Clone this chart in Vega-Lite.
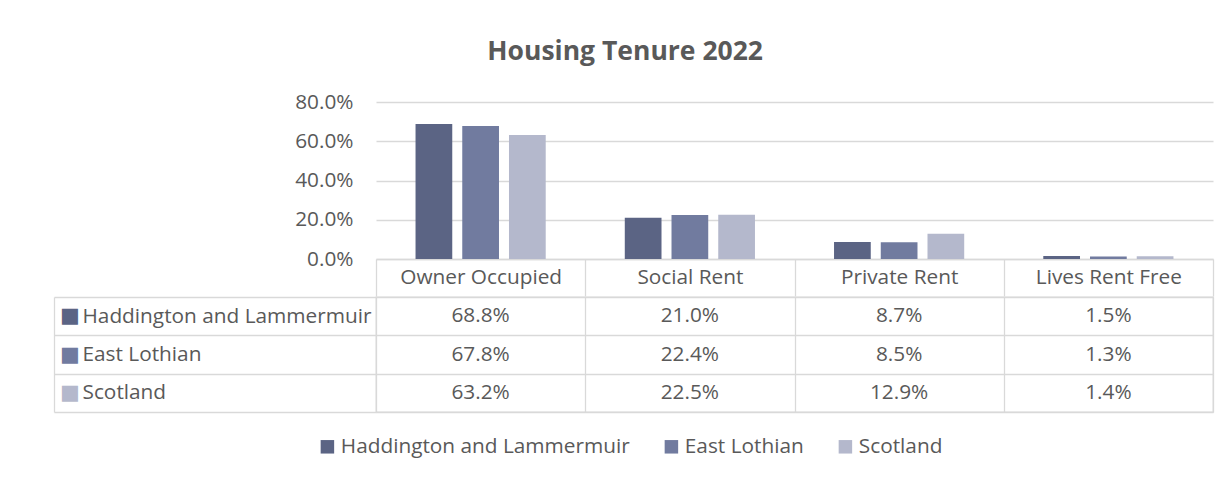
{
  "$schema": "https://vega.github.io/schema/vega-lite/v6.json",
  "padding": {"left": 52, "top": 38, "right": 5, "bottom": 5},
  "title": {"text": "Housing Tenure 2022", "font": "Open Sans", "fontSize": 26.5, "fontWeight": "bold", "color": "#595959", "anchor": "middle", "frame": "bounds", "dx": -8, "offset": 26},
  "datasets": {
    "tenure": [
      {"Tenure": "Owner Occupied", "Area": "Haddington and Lammermuir", "Share": 0.688},
      {"Tenure": "Owner Occupied", "Area": "East Lothian", "Share": 0.678},
      {"Tenure": "Owner Occupied", "Area": "Scotland", "Share": 0.632},
      {"Tenure": "Social Rent", "Area": "Haddington and Lammermuir", "Share": 0.210},
      {"Tenure": "Social Rent", "Area": "East Lothian", "Share": 0.224},
      {"Tenure": "Social Rent", "Area": "Scotland", "Share": 0.225},
      {"Tenure": "Private Rent", "Area": "Haddington and Lammermuir", "Share": 0.087},
      {"Tenure": "Private Rent", "Area": "East Lothian", "Share": 0.085},
      {"Tenure": "Private Rent", "Area": "Scotland", "Share": 0.129},
      {"Tenure": "Lives Rent Free", "Area": "Haddington and Lammermuir", "Share": 0.015},
      {"Tenure": "Lives Rent Free", "Area": "East Lothian", "Share": 0.013},
      {"Tenure": "Lives Rent Free", "Area": "Scotland", "Share": 0.014}
    ]
  },
  "spacing": -12,
  "vconcat": [
    {
      "width": 837,
      "height": 157,
      "data": {"name": "tenure"},
      "mark": {"type": "bar"},
      "encoding": {
        "x": {
          "field": "Tenure", "type": "nominal", "sort": null,
          "scale": {"paddingInner": 0, "paddingOuter": 0},
          "axis": {"title": null, "labelAngle": 0, "labelFont": "Open Sans", "labelFontSize": 20.8, "labelColor": "#595959", "labelBaseline": "middle", "labelPadding": -18.5, "labelLimit": 400, "tickBand": "extent", "tickSize": 37, "tickColor": "#d9d9d9", "tickWidth": 1.3, "domainColor": "#d9d9d9", "domainWidth": 1.3, "grid": false}
        },
        "xOffset": {"field": "Area", "type": "nominal", "sort": null, "scale": {"paddingInner": 0.214, "paddingOuter": 0.846}},
        "y": {
          "field": "Share", "type": "quantitative",
          "scale": {"domain": [0, 0.8], "nice": false},
          "axis": {"title": null, "values": [0, 0.2, 0.4, 0.6, 0.8], "format": ".1%", "labelFont": "Open Sans", "labelFontSize": 20.8, "labelColor": "#595959", "labelPadding": 23, "ticks": false, "domain": false, "gridColor": "#d9d9d9", "gridWidth": 1.3, "minExtent": 322}
        },
        "color": {
          "field": "Area", "type": "nominal", "sort": null,
          "scale": {"range": ["#5b6484", "#717b9f", "#b4b8cc"]},
          "legend": {"orient": "none", "legendX": -59, "legendY": 334, "direction": "horizontal", "title": null, "symbolType": "square", "symbolSize": 182, "symbolStrokeWidth": 0, "labelFont": "Open Sans", "labelFontSize": 20.8, "labelColor": "#595959", "labelLimit": 400, "labelOffset": 3, "columnPadding": 31}
        }
      }
    },
    {
      "width": 837,
      "height": 115,
      "view": {"stroke": "#d9d9d9", "strokeWidth": 1.3},
      "data": {"name": "tenure"},
      "layer": [
        {
          "mark": {"type": "text", "font": "Open Sans", "fontSize": 20.8, "fill": "#595959"},
          "encoding": {
            "x": {
              "field": "Tenure", "type": "nominal", "sort": null,
              "scale": {"type": "band", "paddingInner": 0, "paddingOuter": 0},
              "axis": {"title": null, "labels": false, "ticks": false, "domain": false, "grid": true, "tickBand": "extent", "gridColor": "#d9d9d9", "gridWidth": 1.3}
            },
            "y": {
              "field": "Area", "type": "nominal", "sort": null,
              "scale": {"type": "band", "paddingInner": 0, "paddingOuter": 0},
              "axis": {"title": null, "orient": "left", "offset": 322, "domain": true, "domainColor": "#d9d9d9", "domainWidth": 1.3, "ticks": true, "tickBand": "extent", "tickSize": -322, "tickColor": "#d9d9d9", "tickWidth": 1.3, "labelAlign": "left", "labelBaseline": "middle", "labelPadding": 294, "labelFont": "Open Sans", "labelFontSize": 20.8, "labelColor": "#595959", "labelLimit": 400, "grid": true, "gridColor": "#d9d9d9", "gridWidth": 1.3}
            },
            "text": {"field": "Share", "type": "quantitative", "format": ".1%"}
          }
        },
        {
          "mark": {"type": "text", "opacity": 0},
          "encoding": {
            "y": {
              "field": "Area", "type": "nominal", "sort": null,
              "scale": {"type": "band", "paddingInner": 0, "paddingOuter": 0},
              "axis": {
                "title": null, "orient": "left", "offset": 322, "labelExpr": "'■'", "labelAlign": "left", "labelBaseline": "middle", "labelPadding": -5.5, "labelFont": "DejaVu Sans", "labelFontSize": 21,
                "labelColor": {"condition": [{"test": "datum.value === 'Haddington and Lammermuir'", "value": "#5b6484"}, {"test": "datum.value === 'East Lothian'", "value": "#717b9f"}], "value": "#b4b8cc"},
                "ticks": false, "domain": false, "grid": false
              }
            }
          }
        }
      ],
      "resolve": {"scale": {"y": "independent"}, "axis": {"y": "independent"}}
    }
  ],
  "config": {
    "view": {"stroke": null}
  }
}
